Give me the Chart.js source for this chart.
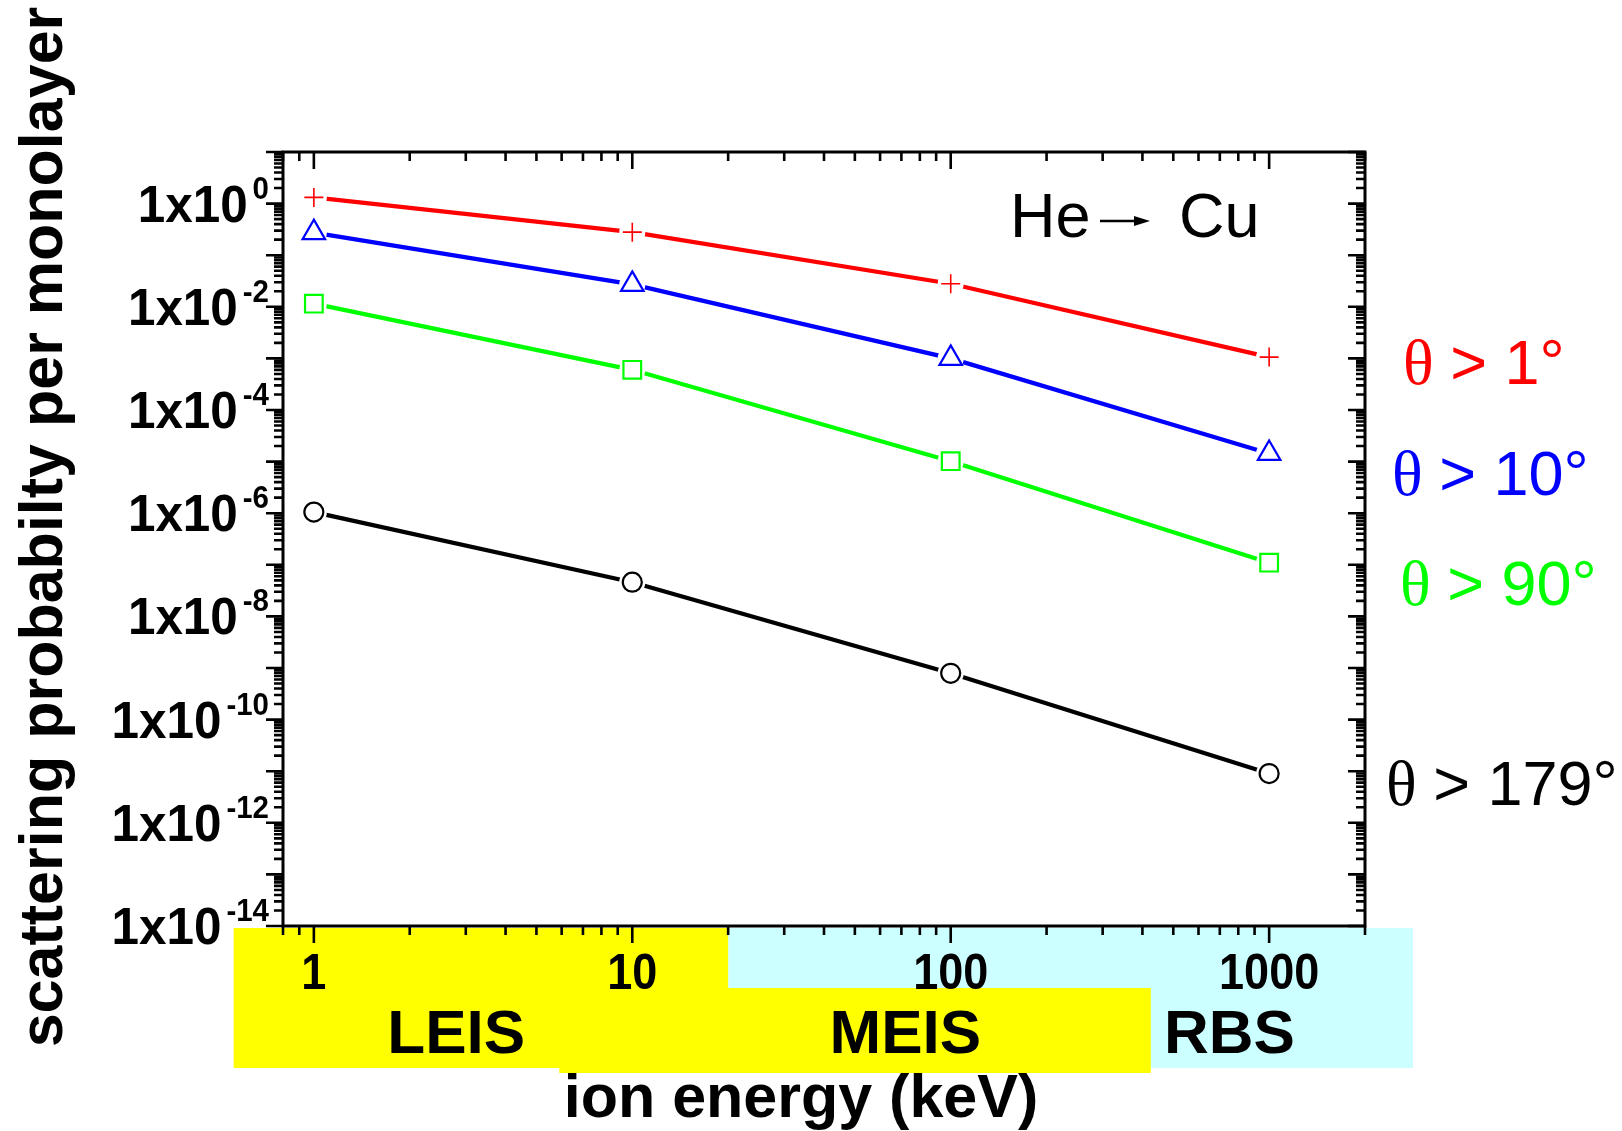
<!DOCTYPE html>
<html>
<head>
<meta charset="utf-8">
<script src="https://cdn.jsdelivr.net/npm/chart.js@4.4.1/dist/chart.umd.min.js"></script>
<style>
  html, body { margin: 0; padding: 0; background: #fff; }
  #wrap { width: 1622px; height: 1131px; position: relative; }
</style>
</head>
<body>
<div id="wrap"><canvas id="myChart"></canvas></div>
<script>
// ion energy (keV)
var energies = [1, 10, 100, 1000];
// scattering probability per monolayer, one array per angle cut
var probTheta1 = [1.32, 0.28, 0.028, 0.00106];
var probTheta10 = [0.274, 0.0272, 0.001, 1.44e-5];
var probTheta90 = [0.0115, 6.0e-4, 1.02e-5, 1.1e-7];
var probTheta179 = [1.05e-6, 4.6e-8, 7.9e-10, 9e-12];

var seriesLabels = ['1°', '10°', '90°', '179°'];
var seriesColors = ['#ff0000', '#0000ff', '#00ff00', '#000000'];

var xTickValues = [1, 10, 100, 1000];
var xTickLabels = ['1', '10', '100', '1000'];
var yTickExponents = [0, -2, -4, -6, -8, -10, -12, -14];

// energy windows of the techniques (keV)
var techniques = ['LEIS', 'MEIS', 'RBS'];
var techniqueFrom = [0.56, 5.9, 20];
var techniqueTo = [20, 425, 2830];
var techniqueLabelAt = [2.8, 72, 750];

var SANS = "'Liberation Sans', Arial, sans-serif";
var SERIF = "'Liberation Serif', 'Times New Roman', serif";

function pts(ys) {
    var out = [];
    for (var i = 0; i < energies.length; i++) {
        out.push({ x: energies[i], y: ys[i] });
    }
    return out;
}

function squeezeText(ctx, text, x, y, font, align, sx) {
    ctx.save();
    ctx.font = font;
    ctx.textAlign = align;
    ctx.textBaseline = 'alphabetic';
    ctx.translate(x, y);
    ctx.scale(sx, 1);
    ctx.fillText(text, 0, 0);
    ctx.restore();
}

var allSeries = [probTheta1, probTheta10, probTheta90, probTheta179];
var markerStyles = ['cross', 'triangle', 'rect', 'circle'];
var markerSizes = [9.5, 13, 12.5, 9.5];

var datasets = [];
// the lines, with a white disc around each point so the line stops short of the marker
for (var i = 0; i < allSeries.length; i++) {
    datasets.push({
        label: 'line' + i,
        data: pts(allSeries[i]),
        borderColor: seriesColors[i],
        borderWidth: 4.2,
        pointStyle: 'circle',
        pointRadius: 13,
        pointBackgroundColor: '#ffffff',
        pointBorderColor: '#ffffff',
        pointBorderWidth: 0,
        tension: 0,
        order: 2
    });
}
// the markers on top
for (var i = 0; i < allSeries.length; i++) {
    datasets.push({
        label: 'marker' + i,
        data: pts(allSeries[i]),
        showLine: false,
        pointStyle: markerStyles[i],
        pointRadius: markerSizes[i],
        pointBackgroundColor: 'rgba(255,255,255,0)',
        pointBorderColor: seriesColors[i],
        pointBorderWidth: i == 0 ? 1.6 : 2.2,
        order: 1
    });
}

var decorations = {
    id: 'decorations',
    beforeDraw: function (chart) {
        var ctx = chart.ctx;
        var x = chart.scales.x;
        var a = chart.chartArea;
        // technique bands under the energy axis (RBS first so MEIS lies over it)
        var drawOrder = [2, 0, 1];
        var bandColors = ['#ffff00', '#ffff00', '#ccffff'];
        ctx.save();
        for (var k = 0; k < drawOrder.length; k++) {
            var j = drawOrder[k];
            var x0 = x.getPixelForValue(techniqueFrom[j]);
            var x1 = x.getPixelForValue(techniqueTo[j]);
            var top = j == 1 ? a.bottom + 62 : a.bottom + 2;
            var bot = j == 1 ? a.bottom + 147 : a.bottom + 142;
            ctx.fillStyle = bandColors[j];
            ctx.fillRect(x0, top, x1 - x0, bot - top);
        }
        ctx.restore();
    },
    afterDraw: function (chart) {
        var ctx = chart.ctx;
        var x = chart.scales.x;
        var y = chart.scales.y;
        var a = chart.chartArea;
        ctx.save();
        ctx.fillStyle = '#000';
        ctx.strokeStyle = '#000';

        // ticks
        ctx.lineWidth = 2.6;
        ctx.lineCap = 'butt';
        var majorLen = 17, minorLen = 9;
        function xTick(v, len) {
            var px = x.getPixelForValue(v);
            ctx.beginPath();
            ctx.moveTo(px, a.bottom); ctx.lineTo(px, a.bottom + len);
            ctx.moveTo(px, a.top); ctx.lineTo(px, a.top + len);
            ctx.stroke();
        }
        function yTick(v, len) {
            var py = y.getPixelForValue(v);
            ctx.beginPath();
            ctx.moveTo(a.left - len, py); ctx.lineTo(a.left, py);
            ctx.moveTo(a.right - len, py); ctx.lineTo(a.right, py);
            ctx.stroke();
        }
        for (var d = 0.1; d <= 1000; d *= 10) {
            for (var m = 2; m <= 9; m++) {
                var v = m * d;
                if (v >= 0.8 && v <= 2000) xTick(v, minorLen);
            }
        }
        for (var i = 0; i < xTickValues.length; i++) xTick(xTickValues[i], majorLen);
        for (var e = -14; e <= 1; e++) {
            yTick(Math.pow(10, e), majorLen);
            if (e < 1) {
                for (var m = 2; m <= 9; m++) yTick(m * Math.pow(10, e), minorLen);
            }
        }

        // frame
        ctx.lineWidth = 3;
        ctx.strokeRect(a.left, a.top, a.right - a.left, a.bottom - a.top);

        // x tick labels
        var xTickFont = 'bold 50px ' + SANS;
        for (var i = 0; i < xTickValues.length; i++) {
            squeezeText(ctx, xTickLabels[i], x.getPixelForValue(xTickValues[i]), a.bottom + 63, xTickFont, 'center', 0.9);
        }

        // y tick labels 1x10^n
        var yTickFont = 'bold 52px ' + SANS;
        var supFont = 'bold 31px ' + SANS;
        for (var i = 0; i < yTickExponents.length; i++) {
            var py = y.getPixelForValue(Math.pow(10, yTickExponents[i]));
            var right = a.left - 14;
            var sup = String(yTickExponents[i]);
            ctx.font = supFont;
            var supW = ctx.measureText(sup).width * 0.95;
            squeezeText(ctx, sup, right, py - 5, supFont, 'right', 0.95);
            squeezeText(ctx, '1x10', right - supW - 5, py + 18, yTickFont, 'right', 0.95);
        }

        // technique names
        var bandFont = 'bold 62px ' + SANS;
        for (var j = 0; j < techniques.length; j++) {
            squeezeText(ctx, techniques[j], x.getPixelForValue(techniqueLabelAt[j]), a.bottom + 127, bandFont, 'center', 1);
        }

        // axis titles
        var titleFont = 'bold 61px ' + SANS;
        squeezeText(ctx, 'ion energy (keV)', 801, 1117, titleFont, 'center', 1);
        ctx.save();
        ctx.translate(62, 527);
        ctx.rotate(-Math.PI / 2);
        ctx.font = titleFont;
        ctx.textAlign = 'center';
        ctx.fillText('scattering probabilty per monolayer', 0, 0);
        ctx.restore();

        // He -> Cu
        ctx.font = '63px ' + SANS;
        ctx.textAlign = 'left';
        ctx.fillText('He', 1010, 237);
        ctx.fillText('Cu', 1179, 237);
        ctx.lineWidth = 2.5;
        ctx.beginPath();
        ctx.moveTo(1100, 221); ctx.lineTo(1138, 221);
        ctx.stroke();
        ctx.beginPath();
        ctx.moveTo(1134, 216); ctx.lineTo(1150, 221); ctx.lineTo(1134, 226);
        ctx.closePath();
        ctx.fill();

        // angle labels beside the curves
        var labelX = [1403, 1392, 1400, 1386];
        var labelY = [384, 495, 605, 805];
        for (var i = 0; i < seriesLabels.length; i++) {
            ctx.fillStyle = seriesColors[i];
            ctx.font = '64px ' + SERIF;
            ctx.textAlign = 'left';
            ctx.fillText('\u03b8', labelX[i], labelY[i]);
            var tw = ctx.measureText('\u03b8').width;
            ctx.font = '63px ' + SANS;
            ctx.fillText(' > ' + seriesLabels[i], labelX[i] + tw - 1, labelY[i]);
        }
        ctx.restore();
    }
};

var ctx = document.getElementById('myChart').getContext('2d');
var myChart = new Chart(ctx, {
    type: 'line',
    data: { datasets: datasets },
    options: {
        responsive: true,
        maintainAspectRatio: false,
        animation: false,
        layout: { padding: { left: 283, right: 257, top: 152, bottom: 205 } },
        plugins: {
            legend: { display: false },
            tooltip: { enabled: false }
        },
        scales: {
            x: { type: 'logarithmic', min: 0.8, max: 2000, display: false },
            y: { type: 'logarithmic', min: 1e-14, max: 10, display: false }
        }
    },
    plugins: [decorations]
});
</script>
</body>
</html>
